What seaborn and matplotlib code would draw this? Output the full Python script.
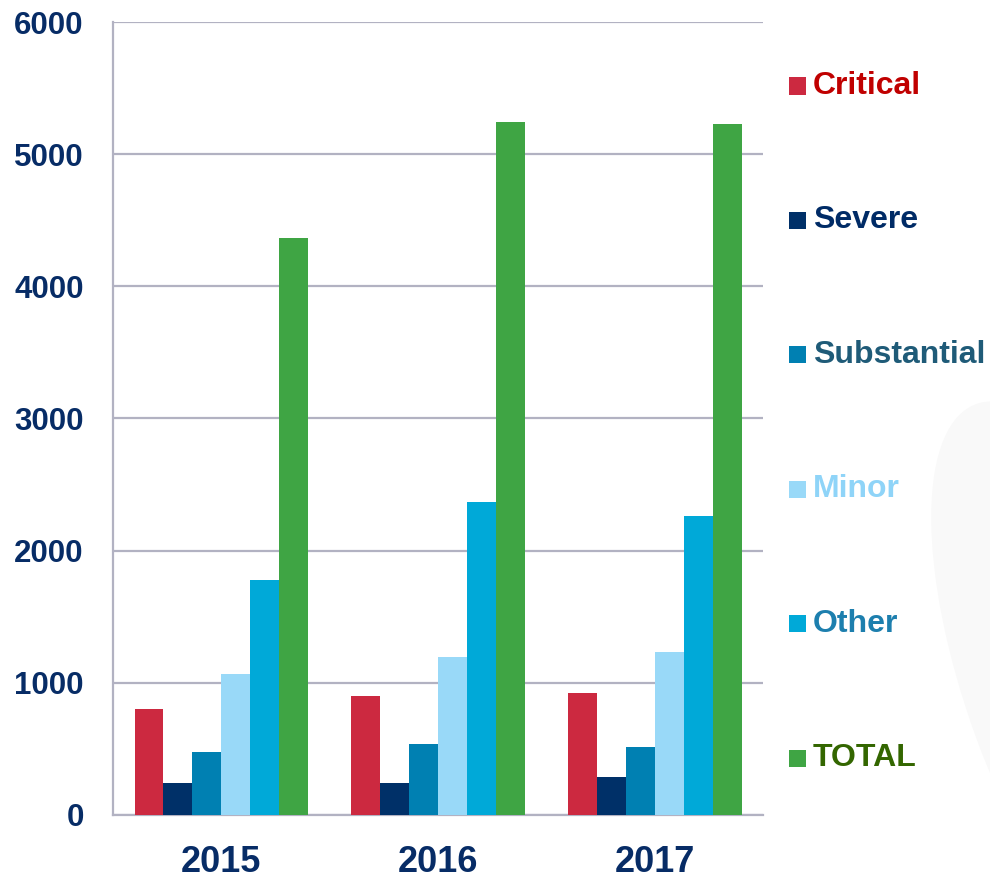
import matplotlib
matplotlib.use("Agg")
import matplotlib.pyplot as plt
from matplotlib.patches import Rectangle, Ellipse
import pandas as pd
import seaborn as sns

# %%
YEARS = ["2015", "2016", "2017"]
SEVERITIES = ["Critical", "Severe", "Substantial", "Minor", "Other", "TOTAL"]

CRITICAL = [798, 903, 926]
SEVERE = [240, 240, 290]
SUBSTANTIAL = [478, 537, 516]
MINOR = [1068, 1198, 1230]
OTHER = [1775, 2366, 2261]
TOTAL = [4368, 5244, 5232]

BAR_COLORS = ["#cc2940", "#003068", "#0080b2", "#99d9f8", "#00a9d8", "#3fa544"]
TEXT_COLORS = ["#c00000", "#002b66", "#1f5b78", "#8fd4f8", "#1d7fae", "#336600"]
GRID = "#b2b2c2"
NAVY = "#072c66"

# %%
valores = [CRITICAL, SEVERE, SUBSTANTIAL, MINOR, OTHER, TOTAL]
filas = []
for sev, serie in zip(SEVERITIES, valores):
    for anio, v in zip(YEARS, serie):
        filas.append({"year": anio, "severity": sev, "count": v})
datos = pd.DataFrame(filas)

sns.set_style("white")
plt.rcParams["font.family"] = ["Liberation Sans", "DejaVu Sans"]

fig = plt.figure(figsize=(9.9, 8.81), dpi=100)
ax = fig.add_axes([0.114, 0.075, 0.657, 0.900])

# faint decorative shape in the background
fig.patches.append(Ellipse((1.1, 0.2), 0.24, 0.72, angle=18, transform=fig.transFigure,
                           facecolor="#f9f9f9", edgecolor="none", zorder=-10))
ax.set_facecolor("none")

sns.barplot(data=datos, x="year", y="count", hue="severity", order=YEARS,
            hue_order=SEVERITIES, palette=BAR_COLORS, width=0.8, saturation=1,
            edgecolor="none", linewidth=0, ax=ax, legend=False, zorder=3)

ax.set_ylim(0, 6000)
ax.set_xlim(-0.5, 2.5)
ax.set_yticks(range(0, 6001, 1000))
ax.yaxis.grid(True, color=GRID, linewidth=1.6, zorder=0)
ax.set_axisbelow(True)
for lado in ["top", "right"]:
    ax.spines[lado].set_visible(False)
for lado in ["left", "bottom"]:
    ax.spines[lado].set_color(GRID)
    ax.spines[lado].set_linewidth(1.6)

ax.set_xlabel("")
ax.set_ylabel("")
ax.tick_params(axis="y", length=6, width=1.6, color=GRID, pad=15,
               labelsize=22.5, labelcolor=NAVY)
ax.tick_params(axis="x", which="major", length=0, pad=22, labelsize=26, labelcolor=NAVY)
ax.set_xticks([-0.5, 0.5, 1.5, 2.5], minor=True)
ax.tick_params(axis="x", which="minor", length=9, width=1.6, color=GRID)
for t in ax.get_xticklabels() + ax.get_yticklabels():
    t.set_fontweight("bold")

# legend drawn by hand, one row per severity
y0 = 1 - 86 / 881
paso = 134.4 / 881
for i, (sev, cbar, ctxt) in enumerate(zip(SEVERITIES, BAR_COLORS, TEXT_COLORS)):
    yc = y0 - i * paso
    fig.patches.append(Rectangle((789 / 990, yc - 8.5 / 881), 17 / 990, 17 / 881,
                                 transform=fig.transFigure, facecolor=cbar,
                                 edgecolor="none"))
    fig.text(813 / 990, yc, sev, fontsize=23, fontweight="bold", color=ctxt,
             va="center", ha="left")

fig.savefig("out.png", dpi=100)
